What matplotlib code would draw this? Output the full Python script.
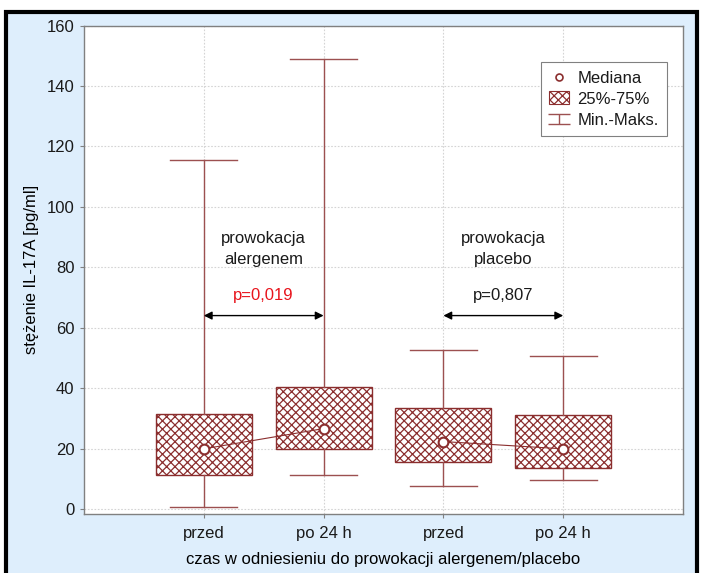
import matplotlib
matplotlib.use("Agg")
import matplotlib.pyplot as plt
from matplotlib.patches import Patch, Rectangle
from matplotlib.lines import Line2D
from matplotlib.container import ErrorbarContainer
from matplotlib.legend_handler import HandlerErrorbar

plt.rcParams['font.family'] = ['Liberation Sans', 'DejaVu Sans']
plt.rcParams['hatch.linewidth'] = 0.9
plt.rcParams['text.color'] = '#1a1a1a'
plt.rcParams['xtick.labelcolor'] = '#1a1a1a'
plt.rcParams['ytick.labelcolor'] = '#1a1a1a'

# data
groups = ['przed', 'po 24 h', 'przed', 'po 24 h']
mins = [0.5, 11.4, 7.6, 9.5]
q1 = [11.4, 19.7, 15.6, 13.6]
medians = [19.9, 26.6, 22.3, 19.9]
q3 = [31.3, 40.4, 33.3, 31.1]
maxs = [115.5, 148.8, 52.7, 50.5]
p_values = ['p=0,019', 'p=0,807']
group_titles = ['prowokacja\nalergenem', 'prowokacja\nplacebo']

box_col = '#8b2e2e'
whisk_col = '#9c5050'
bg = '#deeefc'
fs = 12
hatch = 'xxxx'

fig = plt.figure(figsize=(7.03, 5.73), dpi=100, facecolor='white')
fig.patches.append(Rectangle((6 / 703, -0.02), 691 / 703, 1 - 12 / 573 + 0.02,
                             transform=fig.transFigure, facecolor=bg,
                             edgecolor='black', linewidth=3, zorder=-10))
ax = fig.add_axes([84 / 703, 1 - 513.5 / 573, 599 / 703, 488 / 573])
ax.set_facecolor('white')

pos = [1, 2, 3, 4]
stats = []
for i in range(4):
    stats.append(dict(med=medians[i], q1=q1[i], q3=q3[i],
                      whislo=mins[i], whishi=maxs[i], fliers=[]))

ax.bxp(stats, positions=pos, widths=0.8, capwidths=0.56, patch_artist=True,
       showfliers=False,
       boxprops=dict(facecolor='white', edgecolor=box_col, hatch=hatch, linewidth=1.0),
       whiskerprops=dict(color=whisk_col, linewidth=1.0),
       capprops=dict(color=whisk_col, linewidth=1.0),
       medianprops=dict(linewidth=0))

for a, b in [(0, 2), (2, 4)]:
    ax.plot(pos[a:b], medians[a:b], '-', color=box_col, linewidth=0.8,
            marker='o', markersize=7, markerfacecolor='white',
            markeredgecolor=box_col, markeredgewidth=1.5, zorder=5)

# p-value arrows
for k, (a, b) in enumerate([(1, 2), (3, 4)]):
    ax.annotate('', xy=(a, 64), xytext=(b, 64),
                arrowprops=dict(arrowstyle='<|-|>', color='black', lw=1.0,
                                mutation_scale=12, shrinkA=0, shrinkB=0))
    ax.text((a + b) / 2, 68, p_values[k], ha='center', va='bottom', fontsize=fs,
            color='#e8141c' if k == 0 else '#1a1a1a')
    ax.text((a + b) / 2, 86, group_titles[k], ha='center', va='center',
            fontsize=fs, linespacing=1.5)

ax.set_xlim(0, 5)
ax.set_ylim(-1.5, 160)
ax.set_xticks(pos)
ax.set_xticklabels(groups, fontsize=fs)
ax.set_yticks(range(0, 161, 20))
ax.tick_params(axis='y', labelsize=fs, length=3, pad=4, color='#808080')
ax.tick_params(axis='x', length=3, pad=6, color='#808080')
ax.grid(True, linestyle=(0, (1.5, 1.5)), color='#d4d4d4', linewidth=0.8)
ax.set_axisbelow(True)
for s in ax.spines.values():
    s.set_color('#808080')
    s.set_linewidth(1.0)

ax.set_ylabel('stężenie IL-17A [pg/ml]', fontsize=fs, labelpad=5)
ax.set_xlabel('czas w odniesieniu do prowokacji alergenem/placebo', fontsize=fs, labelpad=8)

# legend
h_med = Line2D([], [], linestyle='none', marker='o', markersize=5,
               markerfacecolor='white', markeredgecolor=box_col, markeredgewidth=1.2)
h_box = Patch(facecolor='white', edgecolor=box_col, hatch=hatch, linewidth=0.8)
h_mm = ax.errorbar([float('nan')], [float('nan')], yerr=[[1], [1]], fmt='none',
                   ecolor=whisk_col, capsize=8, elinewidth=1.0, capthick=1.0)
leg = ax.legend([h_med, h_box, h_mm], ['Mediana', '25%-75%', 'Min.-Maks.'],
                loc='upper right', bbox_to_anchor=(0.973, 0.925), borderaxespad=0,
                fontsize=fs, fancybox=False, framealpha=1, edgecolor='#808080',
                handlelength=1.2, handleheight=0.8, handletextpad=0.5,
                labelspacing=0.35, borderpad=0.5,
                handler_map={ErrorbarContainer: HandlerErrorbar(yerr_size=0.3)})
leg.get_frame().set_linewidth(0.8)

fig.savefig('out.png', dpi=100, facecolor=fig.get_facecolor())
